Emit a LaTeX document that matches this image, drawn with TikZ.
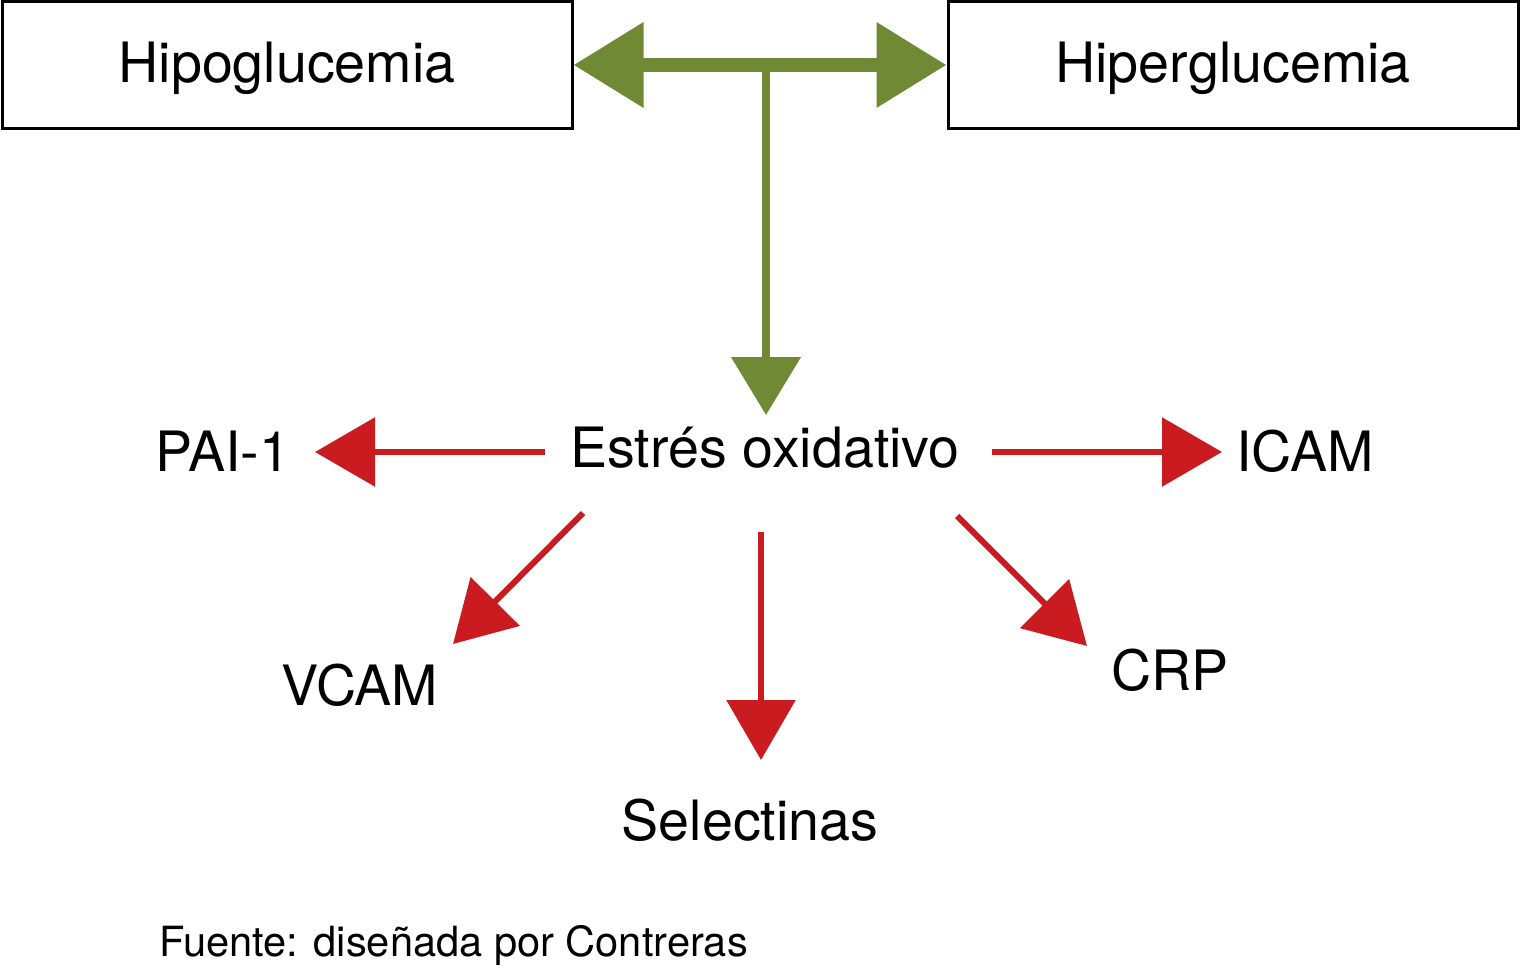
\documentclass[tikz,border=0pt]{standalone}
\usepackage{fontspec}
\setmainfont{TeX Gyre Heros}
\usetikzlibrary{arrows.meta}
\definecolor{olivegreen}{RGB}{112,137,52}
\definecolor{arrowred}{RGB}{201,27,32}
\begin{document}
\begin{tikzpicture}[x=0.5pt,y=-0.5pt,
  box/.style={draw=black,line width=1.5pt,minimum width=285pt,minimum height=63.5pt,inner sep=0pt,
     text height=20.3pt,text depth=2.3pt,font=\fontsize{27.8}{33}\selectfont},
  lbl/.style={inner sep=0pt,anchor=base,font=\fontsize{27.8}{33}\selectfont},
  greenbar/.style={olivegreen,line width=7pt,{Triangle[length=35pt,width=41pt]}-{Triangle[length=35pt,width=41pt]}},
  greenstem/.style={olivegreen,line width=4pt,-{Triangle[length=29pt,width=34pt]}},
  redarrow/.style={arrowred,line width=3pt,-{Triangle[length=30pt,width=34pt]}}]
\useasboundingbox (0,0) rectangle (1520,968);
\node[box] (hipo) at (287,65) {Hipoglucemia};
\node[box] (hiper) at (1233,65) {Hiperglucemia};
\coordinate (junction) at (766,65);
\coordinate (stemtip) at (766,415);
\draw[greenbar] (hipo.east) -- (hiper.west);
\draw[greenstem] (junction) -- (stemtip);

\node[lbl] (estres) at (765,467) {Estrés oxidativo};
\node[lbl] (pai) at (223,471) {PAI-1};
\node[lbl] (icam) at (1305,471) {ICAM};
\node[lbl] (vcam) at (360,705) {VCAM};
\node[lbl] (selec) at (750,840) {Selectinas};
\node[lbl] (crp) at (1170,690) {CRP};
\node[inner sep=0pt,anchor=base west,font=\fontsize{20.8}{25}\selectfont] (fuente) at (159,956) {Fuente: diseñada por Contreras};

\coordinate (sPai) at (545,452);  \coordinate (tPai) at (315,452);
\coordinate (sIcam) at (992,452); \coordinate (tIcam) at (1222,452);
\coordinate (sVcam) at (583,513); \coordinate (tVcam) at (453,644);
\coordinate (sSel) at (761,532);  \coordinate (tSel) at (761,760);
\coordinate (sCrp) at (957,516);  \coordinate (tCrp) at (1087,646);
\draw[redarrow] (sPai) -- (tPai);
\draw[redarrow] (sIcam) -- (tIcam);
\draw[redarrow] (sVcam) -- (tVcam);
\draw[redarrow] (sSel) -- (tSel);
\draw[redarrow] (sCrp) -- (tCrp);
\end{tikzpicture}
\end{document}
